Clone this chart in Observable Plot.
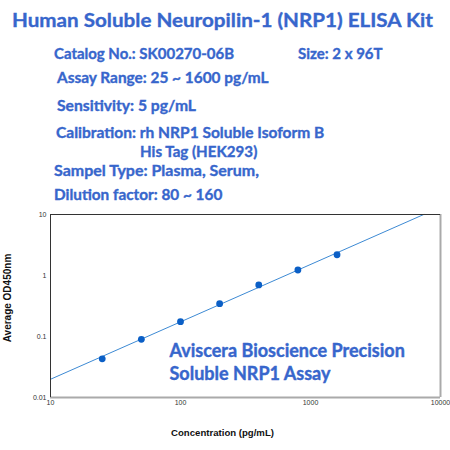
<!DOCTYPE html>
<html>
<head>
<meta charset="utf-8">
<script src="https://cdn.jsdelivr.net/npm/d3@7"></script>
<script src="https://cdn.jsdelivr.net/npm/@observablehq/plot@0.6"></script>
<style>
  html, body { margin: 0; padding: 0; background: #fff; }
  #wrap { position: relative; width: 450px; height: 450px; overflow: hidden; }
  #header { position: absolute; left: 0; top: 0; }
  #chart { position: absolute; left: 0; top: 205px; }
  #header text { font-family: Lato, "Open Sans", sans-serif; font-weight: bold; fill: #3766cc; stroke: #3766cc; stroke-width: 0.35px; }
</style>
</head>
<body>
<div id="wrap">
  <svg id="header" width="450" height="205"></svg>
  <div id="chart"></div>
</div>
<script>
// ---- data ----
const concentration = [25, 50, 100, 200, 400, 800, 1600];           // pg/mL
const averageOD = [0.043, 0.090, 0.175, 0.345, 0.70, 1.23, 2.19];     // OD450nm
const fitConcentration = [10, 7430];
const fitOD = [0.0199, 10];
const xTicks = [10, 100, 1000, 10000];
const yTicks = [0.01, 0.1, 1, 10];
const titleText = "Human Soluble Neuropilin-1 (NRP1) ELISA Kit";
const infoLines = [
  "Catalog No.: SK00270-06B",
  "Size: 2 x 96T",
  "Assay Range: 25 ~ 1600 pg/mL",
  "Sensitivity: 5 pg/mL",
  "Calibration: rh NRP1 Soluble Isoform B",
  "His Tag (HEK293)",
  "Sampel Type: Plasma, Serum,",
  "Dilution factor: 80 ~ 160"
];
const annotation = "Aviscera Bioscience Precision\nSoluble NRP1 Assay";
const xLabel = "Concentration (pg/mL)";
const yLabel = "Average OD450nm";

// ---- header text (layout) ----
const header = d3.select("#header");
const headerLayout = [
  {text: titleText, x: 12, y: 26.7, size: 19.8, len: 421},
  {text: infoLines[0], x: 54, y: 59, size: 15, len: 180},
  {text: infoLines[1], x: 298, y: 59, size: 15, len: 84.6},
  {text: infoLines[2], x: 57, y: 83.3, size: 15, len: 211.6},
  {text: infoLines[3], x: 57, y: 111, size: 15, len: 139},
  {text: infoLines[4], x: 56, y: 137.7, size: 15, len: 268.3},
  {text: infoLines[5], x: 140, y: 156.7, size: 15, len: 117.3},
  {text: infoLines[6], x: 54, y: 176, size: 15, len: 205},
  {text: infoLines[7], x: 54, y: 200, size: 15, len: 168.3}
];
for (const h of headerLayout) {
  header.append("text").attr("x", h.x).attr("y", h.y)
    .attr("textLength", h.len).attr("lengthAdjust", "spacingAndGlyphs")
    .style("font-size", h.size + "px").text(h.text);
}

// ---- chart ----
const pts = concentration.map((c, i) => ({c, od: averageOD[i]}));
const fit = fitConcentration.map((c, i) => ({c, od: fitOD[i]}));

const chart = Plot.plot({
  width: 450,
  height: 245,
  marginTop: 9,
  marginBottom: 53,
  marginLeft: 50,
  marginRight: 10,
  style: {fontFamily: "Liberation Sans, Arial, sans-serif", background: "#fff"},
  x: {type: "log", domain: [10, 10000]},
  y: {type: "log", domain: [0.01, 10]},
  marks: [
    Plot.axisX({ticks: xTicks, tickFormat: d => String(d), tickSize: 0, tickPadding: 3, fontSize: 7, fill: "#333", label: null}),
    Plot.axisY({ticks: yTicks, tickFormat: d => String(d), tickSize: 0, tickPadding: 4, fontSize: 7, fill: "#333", label: null}),
    Plot.line(fit, {x: "c", y: "od", stroke: "#3d8ad4", strokeWidth: 1}),
    Plot.dot(pts, {x: "c", y: "od", r: 3.4, fill: "#0b5fc6", stroke: "none"}),
    Plot.ruleX([10000], {stroke: "#aaa", strokeWidth: 2}),
    Plot.ruleY([0.01], {stroke: "#aaa", strokeWidth: 2}),
    Plot.ruleX([10], {stroke: "#333", strokeWidth: 1}),
    Plot.ruleY([10], {stroke: "#333", strokeWidth: 1}),
    Plot.text([annotation], {frameAnchor: "left", dx: 119, dy: 55, textAnchor: "start", lineAnchor: "middle",
      fontSize: 18, fontWeight: "bold", fill: "#3766cc", stroke: "#3766cc", strokeWidth: 0.4,
      fontFamily: "Lato, 'Open Sans', sans-serif", lineHeight: 1.28}),
    Plot.text([xLabel], {frameAnchor: "bottom", dx: -23, dy: 35, textAnchor: "middle", lineAnchor: "middle",
      fontSize: 9.6, fontWeight: "bold", fill: "#111"}),
    Plot.text([yLabel], {frameAnchor: "left", dx: -43, dy: -8, rotate: -90, textAnchor: "middle", lineAnchor: "middle",
      fontSize: 10, fontWeight: "bold", fill: "#111"})
  ]
});
document.getElementById("chart").appendChild(chart);
</script>
</body>
</html>
